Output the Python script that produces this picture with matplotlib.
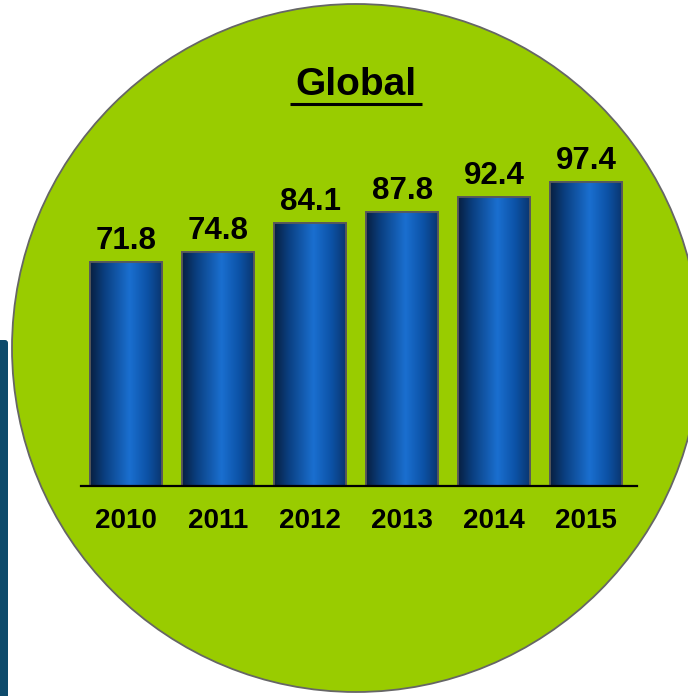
import numpy as np
import matplotlib
matplotlib.use('Agg')
import matplotlib.pyplot as plt
from matplotlib.patches import Circle, FancyBboxPatch
from matplotlib.colors import LinearSegmentedColormap

plt.rcParams['font.family'] = ['Liberation Sans', 'DejaVu Sans']

# data
years = ['2010', '2011', '2012', '2013', '2014', '2015']
values = [71.8, 74.8, 84.1, 87.8, 92.4, 97.4]
title = 'Global'

W, H = 688, 696
fig = plt.figure(figsize=(W / 100, H / 100), dpi=100)

# background layer in pixel coordinates: green disc + teal strip
bg = fig.add_axes([0, 0, 1, 1])
bg.set_xlim(0, W)
bg.set_ylim(H, 0)
bg.axis('off')
bg.add_patch(Circle((356, 348), 344, facecolor='#99cc00',
                    edgecolor='#666666', linewidth=1.3))
bg.add_patch(FancyBboxPatch((-10, 340), 18, 400,
                            boxstyle='round,pad=0,rounding_size=3',
                            facecolor='#0d4a6b', edgecolor='none'))

# title with underline
bg.text(356, 95, title, ha='center', va='baseline',
        fontsize=28, fontweight='bold', color='black')
bg.plot([290, 422], [103.5, 103.5], color='black', linewidth=2.2,
        solid_capstyle='butt')

# bar chart
ymax = 120
ax = fig.add_axes([81 / W, (H - 486) / H, (637 - 81) / W, (375) / H])
ax.patch.set_alpha(0)
x = np.arange(len(years))
bars = ax.bar(x, values, width=0.78, color='#0d4f9c',
              edgecolor='#5a5a5a', linewidth=1.3, zorder=2)

cmap = LinearSegmentedColormap.from_list('barblue', [
    (0.0, '#081f40'), (0.2, '#0a3f80'), (0.55, '#1a6fd0'),
    (0.8, '#0c52a6'), (1.0, '#0a3670')])
grad = np.linspace(0, 1, 256).reshape(1, -1)
for b in bars:
    x0, w, h = b.get_x(), b.get_width(), b.get_height()
    im = ax.imshow(grad, cmap=cmap, aspect='auto', extent=(x0, x0 + w, 0, h),
                   zorder=3, interpolation='bicubic')
    im.set_clip_path(b)
    ax.add_patch(plt.Rectangle((x0, 0), w, h, fill=False,
                               edgecolor='#5a5a5a', linewidth=1.3, zorder=4))

for xi, v in zip(x, values):
    ax.annotate(f'{v:.1f}', (xi, v), xytext=(0, 13), textcoords='offset pixels',
                ha='center', va='baseline', fontsize=22.5, fontweight='bold')

ax.set_xlim(-0.49, 5.55)
ax.set_ylim(0, ymax)
ax.set_xticks(x)
ax.set_xticklabels(years, fontsize=20, fontweight='bold')
ax.tick_params(axis='x', length=0, pad=16)
ax.set_yticks([])
for s in ['top', 'right', 'left']:
    ax.spines[s].set_visible(False)
ax.spines['bottom'].set_linewidth(1.6)
ax.spines['bottom'].set_zorder(5)

fig.savefig('out.png', dpi=100)
